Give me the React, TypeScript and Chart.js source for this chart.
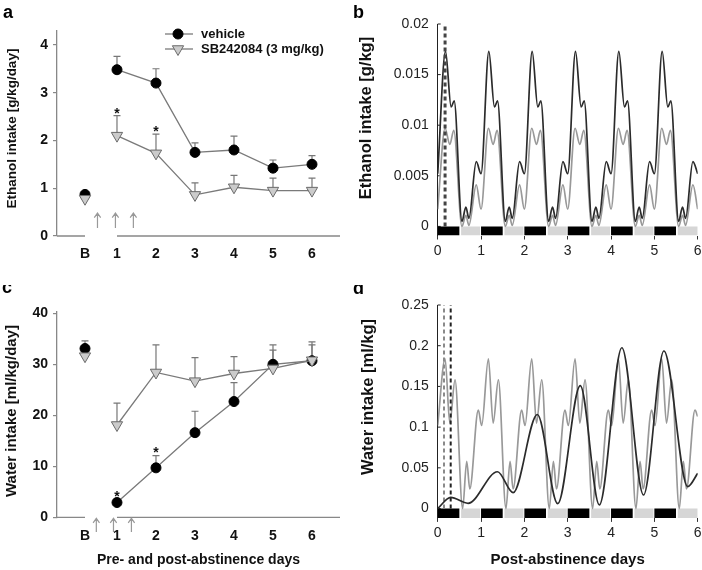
import React, { useEffect, useRef } from 'react';
import { Chart, registerables } from 'chart.js';

Chart.register(...registerables);

const FONT = "'Liberation Sans', Arial, Helvetica, sans-serif";

// ---------- shared x layout for panels a and c ----------
const acTickValues = [0.18, 1, 2, 3, 4, 5, 6];
const acTickLabels = ['B', '1', '2', '3', '4', '5', '6'];
const baselineDay = [0.18];
const postDays = [1, 2, 3, 4, 5, 6];
const acAxisSegments = [[-0.538, 0.18], [1, 6.718]];

// ---------- panel a: ethanol intake [g/kg/day] ----------
const ethVehicle = [3.48, 3.2, 1.75, 1.8, 1.42, 1.5];
const ethVehicleUpper = [3.76, 3.5, 1.95, 2.09, 1.59, 1.68];
const ethSB = [2.1, 1.73, 0.86, 1.02, 0.95, 0.95];
const ethSBUpper = [2.52, 2.13, 1.11, 1.27, 1.21, 1.21];
const ethBaseVehicle = [0.87];
const ethBaseVehicleUpper = [0.93];
const ethBaseSB = [0.78];
const ethBaseSBUpper = [0.84];
const ethStarDays = [1, 2];
const ethStarValues = [2.64, 2.26];
const ethArrowDays = [0.5, 0.96, 1.42];
const ethArrowRange = [0.17, 0.48];
const ethYTicks = [0, 1, 2, 3, 4];

// ---------- panel c: water intake [ml/kg/day] ----------
const waterVehicle = [2.9, 9.7, 16.6, 22.7, 30.0, 30.7];
const waterVehicleUpper = [3.6, 12.1, 20.8, 26.4, 33.8, 34.4];
const waterSB = [18.1, 28.4, 26.7, 28.2, 29.2, 30.8];
const waterSBUpper = [22.4, 33.8, 31.3, 31.5, 32.8, 33.8];
const waterBaseVehicle = [33.1];
const waterBaseVehicleUpper = [34.6];
const waterBaseSB = [31.6];
const waterBaseSBUpper = [32.6];
const waterStarDays = [1, 2];
const waterStarValues = [4.7, 13.4];
const waterArrowDays = [0.47, 0.91, 1.37];
const waterArrowRange = [-2.9, -0.2];
const waterYTicks = [0, 10, 20, 30, 40];

// ---------- panels b and d: post-abstinence time course ----------
const dayTicks = [0, 1, 2, 3, 4, 5, 6];
const darkPhaseStart = [0, 1, 2, 3, 4, 5];
const darkPhaseEnd = [0.5, 1.5, 2.5, 3.5, 4.5, 5.5];
const lightPhaseStart = [0.54, 1.54, 2.54, 3.54, 4.54, 5.54];
const lightPhaseEnd = [0.98, 1.98, 2.98, 3.98, 4.98, 6.0];

const bYTicks = [0, 0.005, 0.01, 0.015, 0.02];
const bYLabels = ['0', '0.005', '0.01', '0.015', '0.02'];
const ethCurveVehicleX = [
  0, 0.18, 0.31, 0.38, 0.56, 0.65, 0.72, 0.89,
  1, 1.18, 1.31, 1.38, 1.56, 1.65, 1.72, 1.89,
  2, 2.18, 2.31, 2.38, 2.56, 2.65, 2.72, 2.89,
  3, 3.18, 3.31, 3.38, 3.56, 3.65, 3.72, 3.89,
  4, 4.18, 4.31, 4.38, 4.56, 4.65, 4.72, 4.89,
  5, 5.18, 5.31, 5.38, 5.56, 5.65, 5.72, 5.89,
  6,
];
const ethCurveVehicleY = [
  0.0052, 0.0173, 0.0118, 0.0124, 0.0005, 0.0019, 0.0008, 0.0064,
  0.0052, 0.0173, 0.0118, 0.0124, 0.0005, 0.0019, 0.0008, 0.0064,
  0.0052, 0.0173, 0.0118, 0.0124, 0.0005, 0.0019, 0.0008, 0.0064,
  0.0052, 0.0173, 0.0118, 0.0124, 0.0005, 0.0019, 0.0008, 0.0064,
  0.0052, 0.0173, 0.0118, 0.0124, 0.0005, 0.0019, 0.0008, 0.0064,
  0.0052, 0.0173, 0.0118, 0.0124, 0.0005, 0.0019, 0.0008, 0.0064,
  0.0052,
];
const ethCurveSBX = [
  0, 0.17, 0.28, 0.37, 0.56, 0.65, 0.72, 0.89,
  1, 1.17, 1.28, 1.37, 1.56, 1.65, 1.72, 1.89,
  2, 2.17, 2.28, 2.37, 2.56, 2.65, 2.72, 2.89,
  3, 3.17, 3.28, 3.37, 3.56, 3.65, 3.72, 3.89,
  4, 4.17, 4.28, 4.37, 4.56, 4.65, 4.72, 4.89,
  5, 5.17, 5.28, 5.37, 5.56, 5.65, 5.72, 5.89,
  6,
];
const ethCurveSBY = [
  0.0017, 0.0097, 0.0081, 0.0095, 0.0, 0.0011, 0.0001, 0.0041,
  0.0017, 0.0097, 0.0081, 0.0095, 0.0, 0.0011, 0.0001, 0.0041,
  0.0017, 0.0097, 0.0081, 0.0095, 0.0, 0.0011, 0.0001, 0.0041,
  0.0017, 0.0097, 0.0081, 0.0095, 0.0, 0.0011, 0.0001, 0.0041,
  0.0017, 0.0097, 0.0081, 0.0095, 0.0, 0.0011, 0.0001, 0.0041,
  0.0017, 0.0097, 0.0081, 0.0095, 0.0, 0.0011, 0.0001, 0.0041,
  0.0017,
];
const ethInjectionDay = [0.17];

const dYTicks = [0, 0.05, 0.1, 0.15, 0.2, 0.25];
const dYLabels = ['0', '0.05', '0.1', '0.15', '0.2', '0.25'];
const waterCurveSBX = [
  0, 0.17, 0.28, 0.4, 0.575, 0.67, 0.74, 0.937,
  1.015, 1.17, 1.28, 1.4, 1.575, 1.67, 1.74, 1.937,
  2.015, 2.17, 2.28, 2.4, 2.575, 2.67, 2.74, 2.937,
  3.015, 3.17, 3.28, 3.4, 3.575, 3.67, 3.74, 3.937,
  4.015, 4.17, 4.28, 4.4, 4.575, 4.67, 4.74, 4.937,
  5.015, 5.17, 5.28, 5.4, 5.575, 5.67, 5.74, 5.937,
  6,
];
const waterCurveSBY = [
  0.102, 0.184, 0.105, 0.158, 0.0, 0.058, 0.024, 0.121,
  0.102, 0.184, 0.105, 0.158, 0.0, 0.058, 0.024, 0.121,
  0.102, 0.184, 0.105, 0.158, 0.0, 0.058, 0.024, 0.121,
  0.102, 0.184, 0.105, 0.158, 0.0, 0.058, 0.024, 0.121,
  0.102, 0.184, 0.105, 0.158, 0.0, 0.058, 0.024, 0.121,
  0.102, 0.184, 0.105, 0.158, 0.0, 0.058, 0.024, 0.121,
  0.113,
];
const waterCurveVehicleX = [0, 0.3, 0.7, 1.38, 1.74, 2.3, 2.77, 3.29, 3.73, 4.25, 4.75, 5.22, 5.77, 6.0];
const waterCurveVehicleY = [0.0, 0.0137, 0.0064, 0.0452, 0.0195, 0.1155, 0.006, 0.151, 0.0045, 0.1975, 0.0166, 0.1935, 0.027, 0.0432];
const waterInjectionDays = [0.145, 0.3];

// ---------- helpers ----------
const pts = (xs: number[], ys: number[]) => xs.map((x, i) => ({ x, y: ys[i] }));
const segments = (starts: number[], ends: number[], y: number) => {
  const out: any[] = [];
  starts.forEach((s, i) => {
    out.push({ x: s, y }, { x: ends[i], y }, { x: ends[i], y: null });
  });
  return out;
};

type ErrSet = { x: number[]; y: number[]; top: number[]; color: string };
type DecoCfg = {
  letter: { text: string; x: number; y: number };
  yTitle: { text: string; x: number; y: number; size: number };
  axisSegs?: number[][];
  axisColor?: string;
  errors?: ErrSet[];
  stars?: { x: number[]; y: number[] };
  arrows?: { x: number[]; range: number[] };
  legend?: { x0: number; x1: number; xm: number; tx: number; ys: number[]; labels: string[] };
  inTicks?: number[];
};

function makeDeco(cfg: DecoCfg) {
  return {
    id: 'deco',
    beforeDatasetsDraw(chart: any) {
      const { ctx } = chart;
      const xs = chart.scales.x;
      const ys = chart.scales.y;
      ctx.save();
      if (cfg.axisSegs) {
        const yb = ys.getPixelForValue(ys.min);
        ctx.strokeStyle = cfg.axisColor || '#888';
        ctx.lineWidth = 1.3;
        ctx.beginPath();
        cfg.axisSegs.forEach(([a, b]) => {
          ctx.moveTo(xs.getPixelForValue(a), yb);
          ctx.lineTo(xs.getPixelForValue(b), yb);
        });
        ctx.stroke();
      }
      if (cfg.inTicks) {
        const xl = chart.chartArea.left;
        ctx.strokeStyle = '#222';
        ctx.lineWidth = 1;
        ctx.beginPath();
        cfg.inTicks.forEach((v) => {
          const py = ys.getPixelForValue(v);
          ctx.moveTo(xl, py);
          ctx.lineTo(xl + 3, py);
        });
        ctx.stroke();
      }
      (cfg.errors || []).forEach((e) => {
        ctx.strokeStyle = e.color;
        ctx.lineWidth = 1.2;
        ctx.beginPath();
        e.x.forEach((xv, i) => {
          const px = xs.getPixelForValue(xv);
          const p0 = ys.getPixelForValue(e.y[i]);
          const p1 = ys.getPixelForValue(e.top[i]);
          ctx.moveTo(px, p0);
          ctx.lineTo(px, p1);
          ctx.moveTo(px - 3.5, p1);
          ctx.lineTo(px + 3.5, p1);
        });
        ctx.stroke();
      });
      ctx.restore();
    },
    afterDatasetsDraw(chart: any) {
      const { ctx } = chart;
      const xs = chart.scales.x;
      const ys = chart.scales.y;
      ctx.save();
      if (cfg.stars) {
        ctx.fillStyle = '#111';
        ctx.font = `bold 14px ${FONT}`;
        ctx.textAlign = 'center';
        ctx.textBaseline = 'alphabetic';
        cfg.stars.x.forEach((xv, i) => {
          ctx.fillText('*', xs.getPixelForValue(xv), ys.getPixelForValue(cfg.stars!.y[i]) + 8);
        });
      }
      if (cfg.arrows) {
        ctx.strokeStyle = '#999';
        ctx.lineWidth = 1.2;
        const y0 = ys.getPixelForValue(cfg.arrows.range[0]);
        const y1 = ys.getPixelForValue(cfg.arrows.range[1]);
        ctx.beginPath();
        cfg.arrows.x.forEach((xv) => {
          const px = xs.getPixelForValue(xv);
          ctx.moveTo(px, y0);
          ctx.lineTo(px, y1);
          ctx.moveTo(px - 3.2, y1 + 4.5);
          ctx.lineTo(px, y1);
          ctx.lineTo(px + 3.2, y1 + 4.5);
        });
        ctx.stroke();
      }
      if (cfg.legend) {
        const L = cfg.legend;
        L.ys.forEach((y, i) => {
          const ds = chart.data.datasets[i];
          ctx.strokeStyle = ds.borderColor;
          ctx.lineWidth = ds.borderWidth;
          ctx.beginPath();
          ctx.moveTo(L.x0, y);
          ctx.lineTo(L.x1, y);
          ctx.stroke();
          ctx.fillStyle = ds.pointBackgroundColor;
          ctx.strokeStyle = ds.pointBorderColor;
          ctx.lineWidth = ds.pointBorderWidth;
          ctx.beginPath();
          if (ds.pointStyle === 'circle') {
            ctx.arc(L.xm, y, ds.pointRadius, 0, Math.PI * 2);
          } else {
            const r = ds.pointRadius;
            ctx.moveTo(L.xm, y + r);
            ctx.lineTo(L.xm - r * 0.866, y - r / 2);
            ctx.lineTo(L.xm + r * 0.866, y - r / 2);
            ctx.closePath();
          }
          ctx.fill();
          ctx.stroke();
          ctx.fillStyle = '#111';
          ctx.font = `bold 13px ${FONT}`;
          ctx.textAlign = 'left';
          ctx.textBaseline = 'middle';
          ctx.fillText(L.labels[i], L.tx, y);
        });
      }
      // panel letter
      ctx.fillStyle = '#000';
      ctx.font = `bold 18px ${FONT}`;
      ctx.textAlign = 'left';
      ctx.textBaseline = 'alphabetic';
      ctx.fillText(cfg.letter.text, cfg.letter.x, cfg.letter.y);
      // y title
      ctx.translate(cfg.yTitle.x, cfg.yTitle.y);
      ctx.rotate(-Math.PI / 2);
      ctx.font = `bold ${cfg.yTitle.size}px ${FONT}`;
      ctx.textAlign = 'center';
      ctx.textBaseline = 'middle';
      ctx.fillStyle = '#111';
      ctx.fillText(cfg.yTitle.text, 0, 0);
      ctx.restore();
    },
  };
}

const VEH_LINE = '#7a7a7a';
const vehiclePoint = {
  pointStyle: 'circle',
  pointRadius: 5,
  pointBackgroundColor: '#000',
  pointBorderColor: '#000',
  pointBorderWidth: 1,
};
const sbPoint = {
  pointStyle: 'triangle',
  rotation: 180,
  pointRotation: 180,
  pointRadius: 6.5,
  pointBackgroundColor: '#cbcbcb',
  pointBorderColor: '#6a6a6a',
  pointBorderWidth: 1,
};

function summaryConfig(o: {
  veh: number[]; vehUp: number[]; sb: number[]; sbUp: number[];
  baseVeh: number[]; baseVehUp: number[]; baseSB: number[]; baseSBUp: number[];
  yMax: number; yTicks: number[]; padTop: number; xHeight: number;
  xTitle?: string; deco: DecoCfg;
}) {
  const deco = {
    ...o.deco,
    axisSegs: acAxisSegments,
    axisColor: '#888',
    errors: [
      { x: postDays, y: o.veh, top: o.vehUp, color: '#777' },
      { x: postDays, y: o.sb, top: o.sbUp, color: '#777' },
      { x: baselineDay, y: o.baseVeh, top: o.baseVehUp, color: '#777' },
      { x: baselineDay, y: o.baseSB, top: o.baseSBUp, color: '#777' },
    ],
  };
  return {
    type: 'line',
    data: {
      datasets: [
        { label: 'vehicle', data: pts(postDays, o.veh), borderColor: VEH_LINE, borderWidth: 1.3, tension: 0, order: 2, ...vehiclePoint },
        { label: 'SB242084 (3 mg/kg)', data: pts(postDays, o.sb), borderColor: VEH_LINE, borderWidth: 1.3, tension: 0, order: 1, ...sbPoint },
        { data: pts(baselineDay, o.baseVeh), showLine: false, order: 2, ...vehiclePoint },
        { data: pts(baselineDay, o.baseSB), showLine: false, order: 1, ...sbPoint },
      ],
    },
    options: {
      animation: false,
      responsive: false,
      devicePixelRatio: 1,
      layout: { padding: { left: 0, right: 11, top: o.padTop, bottom: 0 } },
      plugins: { legend: { display: false }, tooltip: { enabled: false } },
      scales: {
        x: {
          type: 'linear',
          min: -0.538,
          max: 6.718,
          afterFit: (s: any) => { s.height = o.xHeight; s.paddingLeft = 0; s.paddingRight = 0; },
          afterBuildTicks: (s: any) => { s.ticks = acTickValues.map((v) => ({ value: v })); },
          ticks: {
            callback: (_v: any, i: number) => acTickLabels[i],
            font: { family: FONT, size: 14, weight: 'bold' },
            color: '#111',
            padding: 10,
            autoSkip: false,
            maxRotation: 0,
          },
          grid: { display: false, drawTicks: false },
          border: { display: false },
          title: o.xTitle
            ? { display: true, text: o.xTitle, font: { family: FONT, size: 14, weight: 'bold' }, color: '#111', padding: { top: 0, bottom: 1.6 } }
            : { display: false },
        },
        y: {
          min: 0,
          max: o.yMax,
          afterFit: (s: any) => { s.width = 57; s.paddingTop = 0; s.paddingBottom = 0; },
          afterBuildTicks: (s: any) => { s.ticks = o.yTicks.map((v) => ({ value: v })); },
          ticks: {
            callback: (v: any) => String(v),
            font: { family: FONT, size: 14, weight: 'bold' },
            color: '#111',
            padding: 5,
          },
          grid: { display: true, drawOnChartArea: false, drawTicks: true, tickLength: 4, color: '#888', lineWidth: 1.2 },
          border: { display: true, color: '#888', width: 1.3 },
        },
      },
    },
    plugins: [makeDeco(deco)],
  };
}

function timeConfig(o: {
  datasets: any[]; yMin: number; yMax: number; yTicks: number[]; yLabels: string[];
  padTop: number; xHeight: number; barY: number; barW: number; xTitle?: string; deco: DecoCfg;
}) {
  return {
    type: 'line',
    data: {
      datasets: [
        ...o.datasets,
        { data: segments(darkPhaseStart, darkPhaseEnd, o.barY), borderColor: '#000', borderWidth: o.barW, borderCapStyle: 'butt', pointRadius: 0, spanGaps: false, order: 10 },
        { data: segments(lightPhaseStart, lightPhaseEnd, o.barY), borderColor: '#d6d6d6', borderWidth: o.barW, borderCapStyle: 'butt', pointRadius: 0, spanGaps: false, order: 10 },
      ],
    },
    options: {
      animation: false,
      responsive: false,
      devicePixelRatio: 1,
      layout: { padding: { left: 0, right: 4.3, top: o.padTop, bottom: 0 } },
      plugins: { legend: { display: false }, tooltip: { enabled: false } },
      scales: {
        x: {
          type: 'linear',
          min: 0,
          max: 6,
          afterFit: (s: any) => { s.height = o.xHeight; s.paddingLeft = 0; s.paddingRight = 0; },
          afterBuildTicks: (s: any) => { s.ticks = dayTicks.map((v) => ({ value: v })); },
          ticks: {
            callback: (v: any) => String(v),
            font: { family: FONT, size: 14 },
            color: '#222',
            padding: 3,
            autoSkip: false,
            maxRotation: 0,
          },
          grid: { display: true, drawOnChartArea: false, drawTicks: true, tickLength: 4, color: '#333' },
          border: { display: false },
          title: o.xTitle
            ? { display: true, text: o.xTitle, font: { family: FONT, size: 15, weight: 'bold' }, color: '#111', padding: { top: 0, bottom: 1 } }
            : { display: false },
        },
        y: {
          min: o.yMin,
          max: o.yMax,
          afterFit: (s: any) => { s.width = 86.7; s.paddingTop = 0; s.paddingBottom = 0; },
          afterBuildTicks: (s: any) => { s.ticks = o.yTicks.map((v) => ({ value: v })); },
          ticks: {
            callback: (_v: any, i: number) => o.yLabels[i],
            font: { family: FONT, size: 14 },
            color: '#222',
            padding: 9,
          },
          grid: { display: false, drawTicks: false },
          border: { display: true, color: '#222', width: 1 },
        },
      },
    },
    plugins: [makeDeco({ ...o.deco, inTicks: o.yTicks })],
  };
}

const curveDark = { borderColor: '#2b2b2b', borderWidth: 1.7, pointRadius: 0, cubicInterpolationMode: 'monotone' };
const curveGray = { borderColor: '#999', borderWidth: 1.7, pointRadius: 0, cubicInterpolationMode: 'monotone' };

const makeA = () =>
  summaryConfig({
    veh: ethVehicle, vehUp: ethVehicleUpper, sb: ethSB, sbUp: ethSBUpper,
    baseVeh: ethBaseVehicle, baseVehUp: ethBaseVehicleUpper, baseSB: ethBaseSB, baseSBUp: ethBaseSBUpper,
    yMax: 4.29, yTicks: ethYTicks, padTop: 31, xHeight: 49,
    deco: {
      letter: { text: 'a', x: 3, y: 18 },
      yTitle: { text: 'Ethanol intake [g/kg/day]', x: 12, y: 128.5, size: 13.5 },
      stars: { x: ethStarDays, y: ethStarValues },
      arrows: { x: ethArrowDays, range: ethArrowRange },
      legend: { x0: 165, x1: 193, xm: 178, tx: 201, ys: [34, 49], labels: ['vehicle', 'SB242084 (3 mg/kg)'] },
    },
  });

const makeC = () =>
  summaryConfig({
    veh: waterVehicle, vehUp: waterVehicleUpper, sb: waterSB, sbUp: waterSBUpper,
    baseVeh: waterBaseVehicle, baseVehUp: waterBaseVehicleUpper, baseSB: waterBaseSB, baseSBUp: waterBaseSBUpper,
    yMax: 40.3, yTicks: waterYTicks, padTop: 26.8, xHeight: 52.7,
    xTitle: 'Pre- and post-abstinence days',
    deco: {
      letter: { text: 'c', x: 2, y: 8.3 },
      yTitle: { text: 'Water intake [ml/kg/day]', x: 12, y: 126, size: 15 },
      stars: { x: waterStarDays, y: waterStarValues },
      arrows: { x: waterArrowDays, range: waterArrowRange },
    },
  });

const makeB = () =>
  timeConfig({
    datasets: [
      { data: [{ x: ethInjectionDay[0], y: 0 }, { x: ethInjectionDay[0], y: 0.02 }], borderColor: '#444', borderWidth: 3, borderDash: [4, 3], pointRadius: 0, order: 1 },
      { data: pts(ethCurveVehicleX, ethCurveVehicleY), ...curveDark, order: 2 },
      { data: pts(ethCurveSBX, ethCurveSBY), ...curveGray, order: 3 },
    ],
    yMin: -0.0009, yMax: 0.02, yTicks: bYTicks, yLabels: bYLabels,
    padTop: 24, xHeight: 49.5, barY: -0.00045, barW: 9,
    deco: {
      letter: { text: 'b', x: 2, y: 18 },
      yTitle: { text: 'Ethanol intake [g/kg]', x: 15.3, y: 118, size: 16.5 },
    },
  });

const makeD = () =>
  timeConfig({
    datasets: [
      { data: pts(waterCurveVehicleX, waterCurveVehicleY), ...curveDark, order: 1 },
      { data: [{ x: waterInjectionDays[1], y: 0 }, { x: waterInjectionDays[1], y: 0.25 }], borderColor: '#222', borderWidth: 2, borderDash: [4, 3], pointRadius: 0, order: 2 },
      { data: [{ x: waterInjectionDays[0], y: 0 }, { x: waterInjectionDays[0], y: 0.25 }], borderColor: '#8a8a8a', borderWidth: 2, borderDash: [4, 3], pointRadius: 0, order: 3 },
      { data: pts(waterCurveSBX, waterCurveSBY), ...curveGray, order: 4 },
    ],
    yMin: -0.0115, yMax: 0.25, yTicks: dYTicks, yLabels: dYLabels,
    padTop: 20, xHeight: 52.1, barY: -0.00575, barW: 9.4,
    xTitle: 'Post-abstinence days',
    deco: {
      letter: { text: 'd', x: 2, y: 9.3 },
      yTitle: { text: 'Water intake [ml/kg]', x: 17, y: 112, size: 16.5 },
    },
  });

function Panel({ make, left, top }: { make: () => any; left: number; top: number }) {
  const ref = useRef<HTMLCanvasElement>(null);
  useEffect(() => {
    const chart = new Chart(ref.current as HTMLCanvasElement, make());
    return () => chart.destroy();
  }, []);
  return (
    <canvas
      ref={ref}
      width={351}
      height={285}
      style={{ position: 'absolute', left, top, width: 351, height: 285 }}
    />
  );
}

export default function App() {
  return (
    <div style={{ position: 'fixed', left: 0, top: 0, width: 702, height: 570, background: '#fff', overflow: 'hidden' }}>
      <Panel make={makeA} left={0} top={0} />
      <Panel make={makeB} left={351} top={0} />
      <Panel make={makeC} left={0} top={285} />
      <Panel make={makeD} left={351} top={285} />
    </div>
  );
}
